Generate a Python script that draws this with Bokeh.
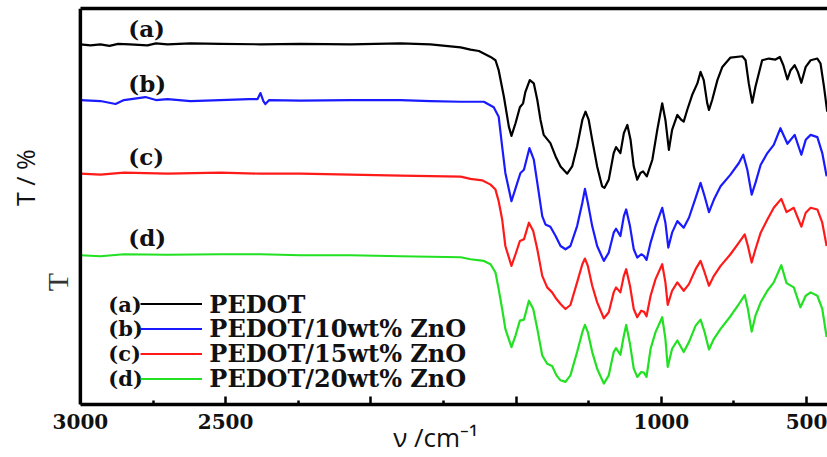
import math
from bokeh.plotting import figure
from bokeh.models import Range1d, LinearAxis, FixedTicker, Span, Label, Legend, LegendItem
from bokeh.embed import file_html
from bokeh.resources import INLINE

# ---- data (wavenumber in cm^-1, transmittance in arbitrary offset units) ----
wn_a = [3000, 2965, 2931, 2900, 2870, 2830, 2769, 2740, 2700, 2621, 2518, 2380, 2242, 2070, 1898, 1795, 1691,
        1657, 1628, 1588, 1571, 1560, 1542, 1525, 1516, 1502, 1487, 1476, 1468, 1453, 1439, 1427, 1416,
        1405, 1382, 1364, 1347, 1324, 1307, 1290, 1272, 1261, 1250, 1238, 1221, 1204, 1196, 1181, 1164,
        1156, 1141, 1129, 1117, 1106, 1095, 1083, 1072, 1063, 1050,
        1031, 1014, 997, 986, 974, 963, 945, 931, 923, 911, 894, 876, 865, 854, 842, 836, 825, 807, 790,
        762, 721, 710, 699, 687, 676, 653, 630, 607, 592, 580, 566, 555, 541, 530, 518, 503, 486, 463,
        452, 440, 429]
t_a = [362, 361, 362, 360.5, 362.5, 362, 361, 363, 362, 363, 362.5, 362, 362.5, 362, 363, 362, 359,
       356.7, 355.3, 349.3, 346, 336, 309.3, 279.3, 270, 282.7, 298.7, 302.7, 314.3, 326, 322.7, 306, 286,
       271, 262.7, 249.3, 239.3, 232, 239.3, 259.3, 286, 294.3, 286, 266, 239.3, 219.3, 217.7, 226, 252.7,
       258.7, 252.7, 272.7, 281, 266, 239.3, 226, 232.7, 234.3, 229.3,
       246, 276, 302.7, 286, 256, 276, 291, 286, 284.3, 296, 311, 322.7, 334.3, 326, 302.7, 296, 306, 326,
       339.3, 348.7, 350, 346, 322.7, 303.3, 319.3, 346, 347.7, 346.7, 349.3, 341, 326.7, 336, 341, 334.3,
       323.3, 339.3, 346, 347.7, 342.7, 319.3, 294.3]

wn_b = [3000, 2931, 2879, 2850, 2776, 2740, 2700, 2621, 2518, 2420, 2390, 2380, 2370, 2363, 2350, 2242,
        2070, 1898, 1795, 1691,
        1657, 1611, 1577, 1560, 1548, 1537, 1516, 1496, 1485, 1473, 1454, 1439, 1427, 1410, 1399, 1382,
        1364, 1347, 1330, 1313, 1290, 1272, 1263, 1253, 1238, 1221, 1198, 1181, 1164, 1156, 1141, 1129,
        1121, 1108, 1095, 1083, 1069, 1060, 1051,
        1037, 1020, 997, 986, 976, 963, 945, 923, 905, 882, 865, 851, 836, 819, 796, 762, 733, 718, 704,
        689, 676, 658, 635, 613, 590, 566, 541, 518, 503, 486, 463, 446, 431]
t_b = [306, 305, 302, 306, 309, 306, 307, 305, 306, 307, 307, 313, 305, 302, 306, 305.5,
       306, 306, 305, 304.3,
       304.3, 304.3, 298.7, 289.3, 259.3, 232.7, 204.3, 222.7, 232.7, 236, 257.7, 246, 222.7, 189.3, 181,
       178.7, 169.3, 159.3, 156, 159.3, 179.3, 202.7, 216.7, 202.7, 179.3, 159.3, 144.3, 152.7, 172.7,
       176.7, 169.3, 189.3, 196, 179.3, 156, 147.7, 151, 149.3, 145.3,
       162.7, 179.3, 197.7, 182.7, 157.7, 172.7, 184.3, 177.7, 187.7, 207.7, 222.7, 209.3, 193.3, 206,
       219.3, 231, 242.7, 251, 236, 211, 222.7, 241, 252.7, 261, 277.7, 262, 271, 251, 266, 271, 268.7,
       252.7, 229.3]

wn_c = [3000, 2931, 2850, 2700, 2518, 2380, 2242, 2070, 1898, 1691,
        1657, 1617, 1588, 1571, 1560, 1548, 1537, 1516, 1502, 1487, 1473, 1456, 1441, 1427, 1410, 1393,
        1376, 1361, 1347, 1330, 1313, 1290, 1272, 1263, 1253, 1238, 1221, 1198, 1181, 1164, 1156, 1141,
        1129, 1121, 1108, 1095, 1083, 1069, 1060, 1051,
        1037, 1020, 997, 986, 978, 963, 945, 923, 905, 882, 865, 851, 836, 819, 796, 762, 733, 713, 702,
        689, 676, 658, 635, 613, 587, 569, 544, 518, 503, 486, 463, 446, 431]
t_c = [232, 231, 233, 232, 233, 232, 232, 231, 230, 229,
       226.7, 225.3, 221, 216, 204.3, 186, 159.3, 139.3, 151, 164.3, 166, 182.7, 174.3, 156, 129.3, 117.7,
       112.7, 106, 101, 96, 100, 122.7, 141, 146.7, 139.3, 119.3, 102.7, 86.7, 92.7, 112.7, 117.7, 112.7,
       129.3, 136, 119.3, 96, 87.7, 94.3, 93.3, 88.7,
       109.3, 126, 141, 122.7, 100, 114.3, 122.7, 114.3, 121, 136, 144.3, 132.7, 119.3, 129.3, 139.3, 151,
       162.7, 171, 159.3, 142.7, 156, 172.7, 186, 197.7, 206.7, 193.3, 197.7, 178.7, 192.7, 197.7, 196,
       182.7, 159.3]

wn_d = [3000, 2931, 2850, 2700, 2518, 2380, 2242, 2070, 1898, 1691,
        1657, 1611, 1588, 1571, 1560, 1548, 1537, 1516, 1502, 1487, 1473, 1456, 1441, 1427, 1410, 1393,
        1376, 1361, 1347, 1330, 1313, 1290, 1272, 1263, 1253, 1238, 1221, 1198, 1181, 1164, 1156, 1141,
        1129, 1121, 1108, 1095, 1083, 1069, 1060, 1051,
        1037, 1020, 997, 986, 978, 963, 945, 923, 905, 882, 865, 851, 836, 819, 796, 762, 733, 713, 702,
        689, 676, 658, 635, 613, 587, 569, 544, 521, 503, 486, 463, 446, 431]
t_d = [150, 149, 151, 150.5, 151, 151, 150, 150, 149, 148,
       146, 144.3, 141, 132.7, 116, 96, 76, 57.7, 69.3, 84.3, 85.3, 104.3, 96, 76, 49.3, 41,
       38.7, 29.3, 24.3, 22.7, 29.3, 52.7, 72.7, 80, 72.7, 52.7, 36, 21, 29.3, 52.7, 56.7, 50,
       69.3, 80, 61, 36, 27.7, 32.7, 32, 27.7,
       56, 72.7, 87.7, 66, 37.7, 56, 64.3, 52.7, 62.7, 79.3, 85.3, 72.7, 55.3, 66, 76, 88.7, 101, 110, 96,
       73.3, 89.3, 102.7, 114.3, 122.7, 140, 122, 117.7, 97.7, 109.3, 112.7, 109.3, 96, 67.7]

series_wn = [wn_a, wn_b, wn_c, wn_d]
series_t = [t_a, t_b, t_c, t_d]
series_tags = ["(a)", "(b)", "(c)", "(d)"]
series_names = ["PEDOT", "PEDOT/10wt% ZnO", "PEDOT/15wt% ZnO", "PEDOT/20wt% ZnO"]
series_colors = ["#000000", "#1a1aff", "#ff1a1a", "#22e022"]

major_ticks = [3000, 2500, 2000, 1500, 1000, 500]
minor_ticks = [2750, 2250, 1750, 1250, 750]
tick_labels = {3000: "3000", 2500: "2500", 2000: "", 1500: "", 1000: "1000", 500: "500"}
x_min, x_max = 428, 3000

x_title = "ν /cm⁻¹"
y_title = "T / %"

# ---- figure ----
p = figure(width=827, height=457, output_backend="svg", toolbar_location=None,
           x_range=Range1d(3275, 428), y_range=Range1d(0, 398),
           x_axis_type=None, y_axis_type=None,
           min_border_left=0, min_border_right=0, min_border_top=8, min_border_bottom=51)
p.outline_line_color = None
p.background_fill_color = "white"
p.border_fill_color = "white"

xaxis = LinearAxis(ticker=FixedTicker(ticks=major_ticks, minor_ticks=minor_ticks),
                   bounds=(x_min, x_max))
xaxis.major_label_overrides = tick_labels
xaxis.axis_line_width = 3.5
xaxis.major_tick_in = 8
xaxis.major_tick_out = 0
xaxis.minor_tick_in = 4
xaxis.minor_tick_out = 0
xaxis.major_tick_line_width = 2.5
xaxis.minor_tick_line_width = 2.5
xaxis.major_label_text_font = "DejaVu Serif"
xaxis.major_label_text_font_style = "bold"
xaxis.major_label_text_font_size = "20px"
xaxis.major_label_text_color = "#111111"
xaxis.major_label_standoff = 9
xaxis.axis_label = "\u2003\u2002\u2009" + x_title
xaxis.axis_label_text_font = "Open Sans"
xaxis.axis_label_text_font_style = "normal"
xaxis.axis_label_text_font_size = "26px"
xaxis.axis_label_text_color = "#111111"
xaxis.axis_label_standoff = -13
p.add_layout(xaxis, "below")

topaxis = LinearAxis(ticker=FixedTicker(ticks=[]), bounds=(x_min, x_max))
topaxis.axis_line_width = 3.5
topaxis.major_tick_in = 0
topaxis.major_tick_out = 0
topaxis.minor_tick_in = 0
topaxis.minor_tick_out = 0
topaxis.major_label_text_font_size = "0px"
topaxis.major_label_standoff = 0
topaxis.axis_label_standoff = 0
p.add_layout(topaxis, "above")

p.add_layout(Span(location=x_max, dimension="height", line_color="black", line_width=3.5))

renderers = []
for wn, t, c in zip(series_wn, series_t, series_colors):
    r = p.line(wn, t, line_color=c, line_width=2.2, line_join="round")
    renderers.append(r)

# curve tags
tag_pos = [(2835, 378), (2835, 323), (2835, 249), (2835, 168)]
for tag, (x, y) in zip(series_tags, tag_pos):
    p.add_layout(Label(x=x, y=y, text=tag, text_font="DejaVu Serif", text_font_style="bold",
                       text_font_size="23px", text_baseline="middle", text_align="left",
                       text_color="#111111"))

# legend: sample lines from the Legend, names and tags as labels beside them
legend = Legend(items=[LegendItem(label=" ", renderers=[r]) for r in renderers],
                location=(140, 13), orientation="vertical",
                glyph_width=62, glyph_height=25, label_standoff=0, spacing=0,
                padding=0, margin=0, label_height=1, label_width=1,
                label_text_font_size="1px",
                border_line_color=None, background_fill_alpha=0)
p.add_layout(legend)

leg_row_y = [101, 76, 51, 26]
for tag, name, y in zip(series_tags, series_names, leg_row_y):
    p.add_layout(Label(x=2904, y=y, text=tag, text_font="DejaVu Serif", text_font_style="bold",
                       text_font_size="21px", text_baseline="middle", text_align="left",
                       text_color="#111111"))
    p.add_layout(Label(x=2556, y=y, text=name, text_font="DejaVu Serif", text_font_style="bold",
                       text_font_size="24px", text_baseline="middle", text_align="left",
                       text_color="#111111"))

# y title and faint remnant letter
p.add_layout(Label(x=3189, y=228, text=y_title, text_font="Open Sans", text_font_size="25px",
                   angle=math.pi / 2, text_baseline="middle", text_align="center",
                   text_color="#111111"))
p.add_layout(Label(x=3079, y=123, text="T", text_font="Liberation Serif", text_font_size="30px",
                   angle=math.pi / 2, text_baseline="middle", text_align="center",
                   text_color="#333333"))

open("out.html", "w").write(file_html(p, INLINE))
